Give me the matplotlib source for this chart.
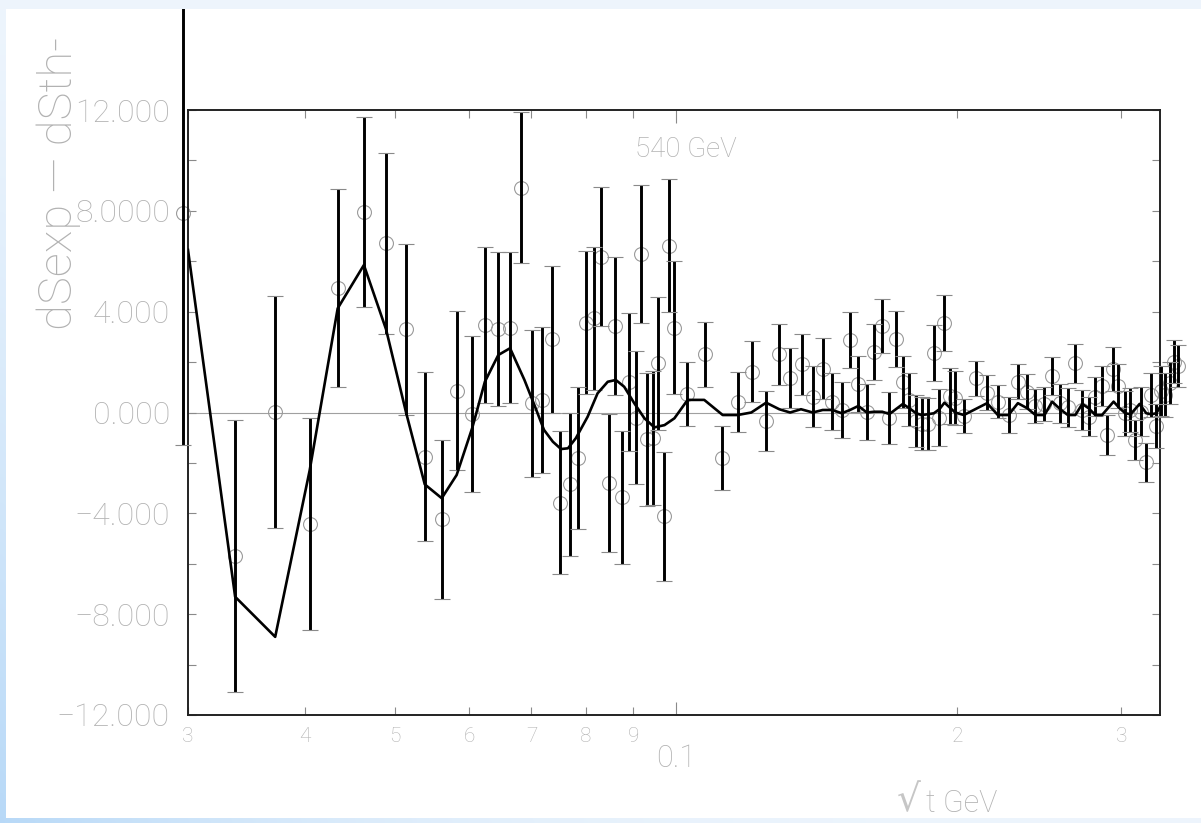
import numpy as np
import matplotlib
matplotlib.use('Agg')
import matplotlib.pyplot as plt
from matplotlib.patches import Rectangle
from matplotlib.ticker import FixedLocator, FixedFormatter

# measured points (sqrt(t) in GeV, dS_exp - dS_th, error)
exp_x = [0.0296, 0.0337, 0.0372, 0.0405, 0.0434, 0.0463, 0.0489, 0.0514, 0.0538, 0.0561,
         0.0582, 0.0605, 0.0624, 0.0645, 0.0664, 0.0682, 0.0701, 0.0718, 0.0736, 0.0751,
         0.0769, 0.0786, 0.0801, 0.0816, 0.0831, 0.0847, 0.0861, 0.0875, 0.0890, 0.0905,
         0.0917, 0.0931, 0.0944, 0.0957, 0.0970, 0.0984, 0.0996, 0.1027, 0.1075, 0.1120,
         0.1165, 0.1206, 0.1249, 0.1289, 0.1325, 0.1363, 0.1401, 0.1436, 0.1470, 0.1505,
         0.1536, 0.1568, 0.1601, 0.1631, 0.1662, 0.1693, 0.1720, 0.1750, 0.1778, 0.1808,
         0.1833, 0.1860, 0.1888, 0.1914, 0.1939, 0.1966, 0.1991, 0.2034, 0.2097, 0.2154,
         0.2212, 0.2271, 0.2323, 0.2378, 0.2426, 0.2479, 0.2530, 0.2580, 0.2631, 0.2676,
         0.2724, 0.2770, 0.2811, 0.2857, 0.2898, 0.2937, 0.2977, 0.3028, 0.3068, 0.3105,
         0.3150, 0.3188, 0.3229, 0.3265, 0.3306, 0.3345, 0.3379, 0.3415, 0.3450]
exp_y = [7.93, -5.68, 0.03, -4.42, 4.94, 7.94, 6.71, 3.30, -1.75, -4.24,
         0.87, -0.06, 3.47, 3.30, 3.37, 8.92, 0.36, 0.50, 2.90, -3.58,
         -2.85, -1.79, 3.56, 3.74, 6.18, -2.79, 3.43, -3.37, 1.22, -0.20,
         6.29, -1.07, -1.02, 1.95, -4.12, 6.62, 3.37, 0.72, 2.31, -1.82,
         0.42, 1.62, -0.33, 2.32, 1.36, 1.92, 0.63, 1.73, 0.43, 0.10,
         2.88, 1.13, 0.03, 2.41, 3.43, -0.23, 2.92, 1.22, 0.50, -0.33,
         -0.44, -0.46, 2.35, -0.20, 3.55, 0.65, 0.58, -0.14, 1.36, 0.79,
         0.43, -0.10, 1.22, 0.83, 0.26, 0.34, 1.45, 0.37, 0.21, 1.95,
         0.10, -0.17, 0.63, 1.05, -0.89, 1.73, 1.05, -0.03, 0.10, -1.09,
         0.03, -1.98, 0.69, -0.54, 0.85, 0.70, 1.18, 2.02, 1.84]
exp_err = [9.2, 5.4, 4.6, 4.2, 3.92, 3.77, 3.6, 3.4, 3.35, 3.16,
           3.15, 3.1, 3.1, 3.05, 3.0, 3.0, 2.91, 2.91, 2.9, 2.83,
           2.83, 2.82, 2.83, 2.83, 2.76, 2.75, 2.75, 2.65, 2.73, 2.65,
           2.73, 2.65, 2.65, 2.65, 2.56, 2.65, 2.65, 1.27, 1.28, 1.27,
           1.2, 1.2, 1.2, 1.21, 1.2, 1.21, 1.21, 1.21, 1.12, 1.1,
           1.12, 1.11, 1.11, 1.12, 1.08, 1.03, 1.12, 1.04, 1.05, 1.03,
           1.05, 1.02, 1.12, 1.12, 1.1, 1.1, 1.08, 0.68, 0.7, 0.68,
           0.66, 0.7, 0.7, 0.68, 0.69, 0.68, 0.77, 0.78, 0.78, 0.78,
           0.8, 0.78, 0.78, 0.78, 0.8, 0.86, 0.86, 0.9, 0.86, 0.78,
           0.98, 0.78, 0.87, 0.86, 1.0, 0.87, 0.84, 0.86, 0.84]

# theory curve
theory_x = [0.0300, 0.0337, 0.0372, 0.0405, 0.0434, 0.0463, 0.0489, 0.0514, 0.0538, 0.0561,
            0.0582, 0.0605, 0.0624, 0.0645, 0.0664, 0.0688, 0.0705, 0.0722, 0.0738, 0.0753,
            0.0766, 0.0781, 0.0804, 0.0824, 0.0845, 0.0862, 0.0880, 0.0902, 0.0925, 0.0948,
            0.0972, 0.0996, 0.1029, 0.1072, 0.1122, 0.1164, 0.1204, 0.1249, 0.1290, 0.1325,
            0.1361, 0.1401, 0.1436, 0.1470, 0.1505, 0.1536, 0.1568, 0.1601, 0.1631, 0.1663,
            0.1693, 0.1750, 0.1778, 0.1808, 0.1834, 0.1861, 0.1889, 0.1915, 0.1939, 0.1991,
            0.2034, 0.2154, 0.2212, 0.2271, 0.2324, 0.2378, 0.2427, 0.2482, 0.2529, 0.2580,
            0.2629, 0.2678, 0.2724, 0.2767, 0.2813, 0.2860, 0.2943, 0.2987, 0.3029, 0.3069,
            0.3138, 0.3190, 0.3230, 0.3270, 0.3305]
theory_y = [6.45, -7.31, -8.9, -2.3, 4.13, 5.85, 3.3, -0.03, -2.85, -3.4,
            -2.48, -0.6, 1.22, 2.28, 2.55, 1.29, 0.3, -0.69, -1.16, -1.45,
            -1.42, -1.02, -0.17, 0.76, 1.22, 1.29, 1.02, 0.37, -0.23, -0.59,
            -0.5, -0.23, 0.5, 0.5, -0.1, -0.1, 0.0, 0.39, 0.13, 0.0,
            0.13, 0.0, 0.1, 0.1, -0.03, 0.1, 0.26, 0.0, 0.03, 0.03,
            -0.06, 0.34, 0.17, -0.03, -0.1, -0.07, -0.03, 0.13, 0.39, 0.0,
            -0.1, 0.37, -0.1, -0.1, 0.37, 0.17, -0.1, -0.1, 0.43, 0.13,
            -0.1, -0.1, 0.34, 0.17, -0.1, -0.1, 0.43, 0.17, -0.03, -0.07,
            0.34, -0.03, -0.07, -0.03, 0.26]

ytick_values = [-12, -8, -4, 0, 4, 8, 12]
ytick_labels = ['\u221212.000', '\u22128.000', '\u22124.000', '0.000', '4.000', '8.0000', '12.000']
yminor_values = [-10, -6, -2, 2, 6, 10]
xmajor_values = [0.1]
xmajor_labels = ['0.1']
xminor_values = [0.03, 0.04, 0.05, 0.06, 0.07, 0.08, 0.09, 0.2, 0.3]
xminor_labels = ['3', '4', '5', '6', '7', '8', '9', '2', '3']

W, H = 1201, 823
GREY_TXT = '#b2b2b2'


def draw_background(fig):
    bg = fig.add_axes([0, 0, 1, 1], zorder=-3)
    bg.axis('off')
    gx, gy = np.meshgrid(np.linspace(0, 1, 300), np.linspace(0, 1, 300))
    w = np.clip(gy ** 1.3 * (1 - gx) ** 3, 0, 1)
    light = np.array([0.93, 0.96, 0.99])
    dark = np.array([0.72, 0.85, 0.97])
    img = light[None, None, :] * (1 - w[..., None]) + dark[None, None, :] * w[..., None]
    bg.imshow(img, extent=[0, 1, 0, 1], aspect='auto', origin='upper')
    bg.set_xlim(0, 1)
    bg.set_ylim(0, 1)
    white = Rectangle((6 / W, 5 / H), 1 - 6 / W, (H - 9 - 5) / H, transform=fig.transFigure,
                      facecolor='white', edgecolor='none', zorder=-2)
    fig.add_artist(white)
    return white


def create_graph(fig, white):
    ax = fig.add_axes([188 / W, (H - 715) / H, (1160 - 188) / W, (715 - 110) / H])

    ax.axhline(0, color='#a0a0a0', lw=0.8, zorder=1)

    pts, = ax.plot(exp_x, exp_y, 'o', mfc='none', mec='#9a9a9a', ms=10, mew=0.8, zorder=2)
    pts.set_clip_path(white)

    eb = ax.errorbar(exp_x, exp_y, yerr=exp_err, fmt='none', ecolor='black',
                     elinewidth=2.1, capsize=6, capthick=0.8, zorder=3)
    for cap in eb.lines[1]:
        cap.set_markeredgecolor('#8a8a8a')
        cap.set_markerfacecolor('#8a8a8a')
        cap.set_clip_path(white)
    for col in eb.lines[2]:
        col.set_clip_path(white)

    ax.plot(theory_x, theory_y, color='black', lw=1.9, zorder=4)

    ax.set_xscale('log')
    ax.set_xlim(0.03, 0.330)
    ax.set_ylim(-12, 12)

    ax.xaxis.set_major_locator(FixedLocator(xmajor_values))
    ax.xaxis.set_major_formatter(FixedFormatter(xmajor_labels))
    ax.xaxis.set_minor_locator(FixedLocator(xminor_values))
    ax.xaxis.set_minor_formatter(FixedFormatter(xminor_labels))
    ax.yaxis.set_major_locator(FixedLocator(ytick_values))
    ax.yaxis.set_major_formatter(FixedFormatter(ytick_labels))
    ax.yaxis.set_minor_locator(FixedLocator(yminor_values))

    ax.tick_params(which='both', direction='in', top=True, right=True,
                   color='#8a8a8a', width=0.8, labelcolor=GREY_TXT)
    ax.tick_params(axis='y', which='both', length=6, labelsize=23, pad=13)
    ax.tick_params(axis='x', which='major', length=9.5, labelsize=22, pad=21)
    ax.tick_params(axis='x', which='minor', length=6, labelsize=15, pad=9)

    for s in ax.spines.values():
        s.set_linewidth(1.4)
        s.set_color('#222222')

    ax.text((635 - 188) / 972, (715 - 157) / 605, '540 GeV', transform=ax.transAxes,
            ha='left', va='baseline', fontsize=20, color=GREY_TXT)

    fig.text(72 / W, (H - 330) / H, 'dSexp \u2014 dSth-', rotation=90, rotation_mode='anchor',
             ha='left', va='baseline', fontsize=34, color=GREY_TXT)
    fig.text(897 / W, (H - 811) / H, '\u221a', ha='left', va='baseline',
             fontsize=27, color='#c6c6c6', family=['DejaVu Sans'], fontweight='normal')
    fig.text(926 / W, (H - 812) / H, 't GeV', ha='left', va='baseline',
             fontsize=22, color=GREY_TXT)
    return ax


def main():
    plt.rcParams['font.family'] = ['Roboto', 'DejaVu Sans']
    plt.rcParams['font.weight'] = 'light'
    fig = plt.figure(figsize=(W / 100, H / 100), dpi=100)
    white = draw_background(fig)
    create_graph(fig, white)
    fig.savefig('out.png', dpi=100)


main()
